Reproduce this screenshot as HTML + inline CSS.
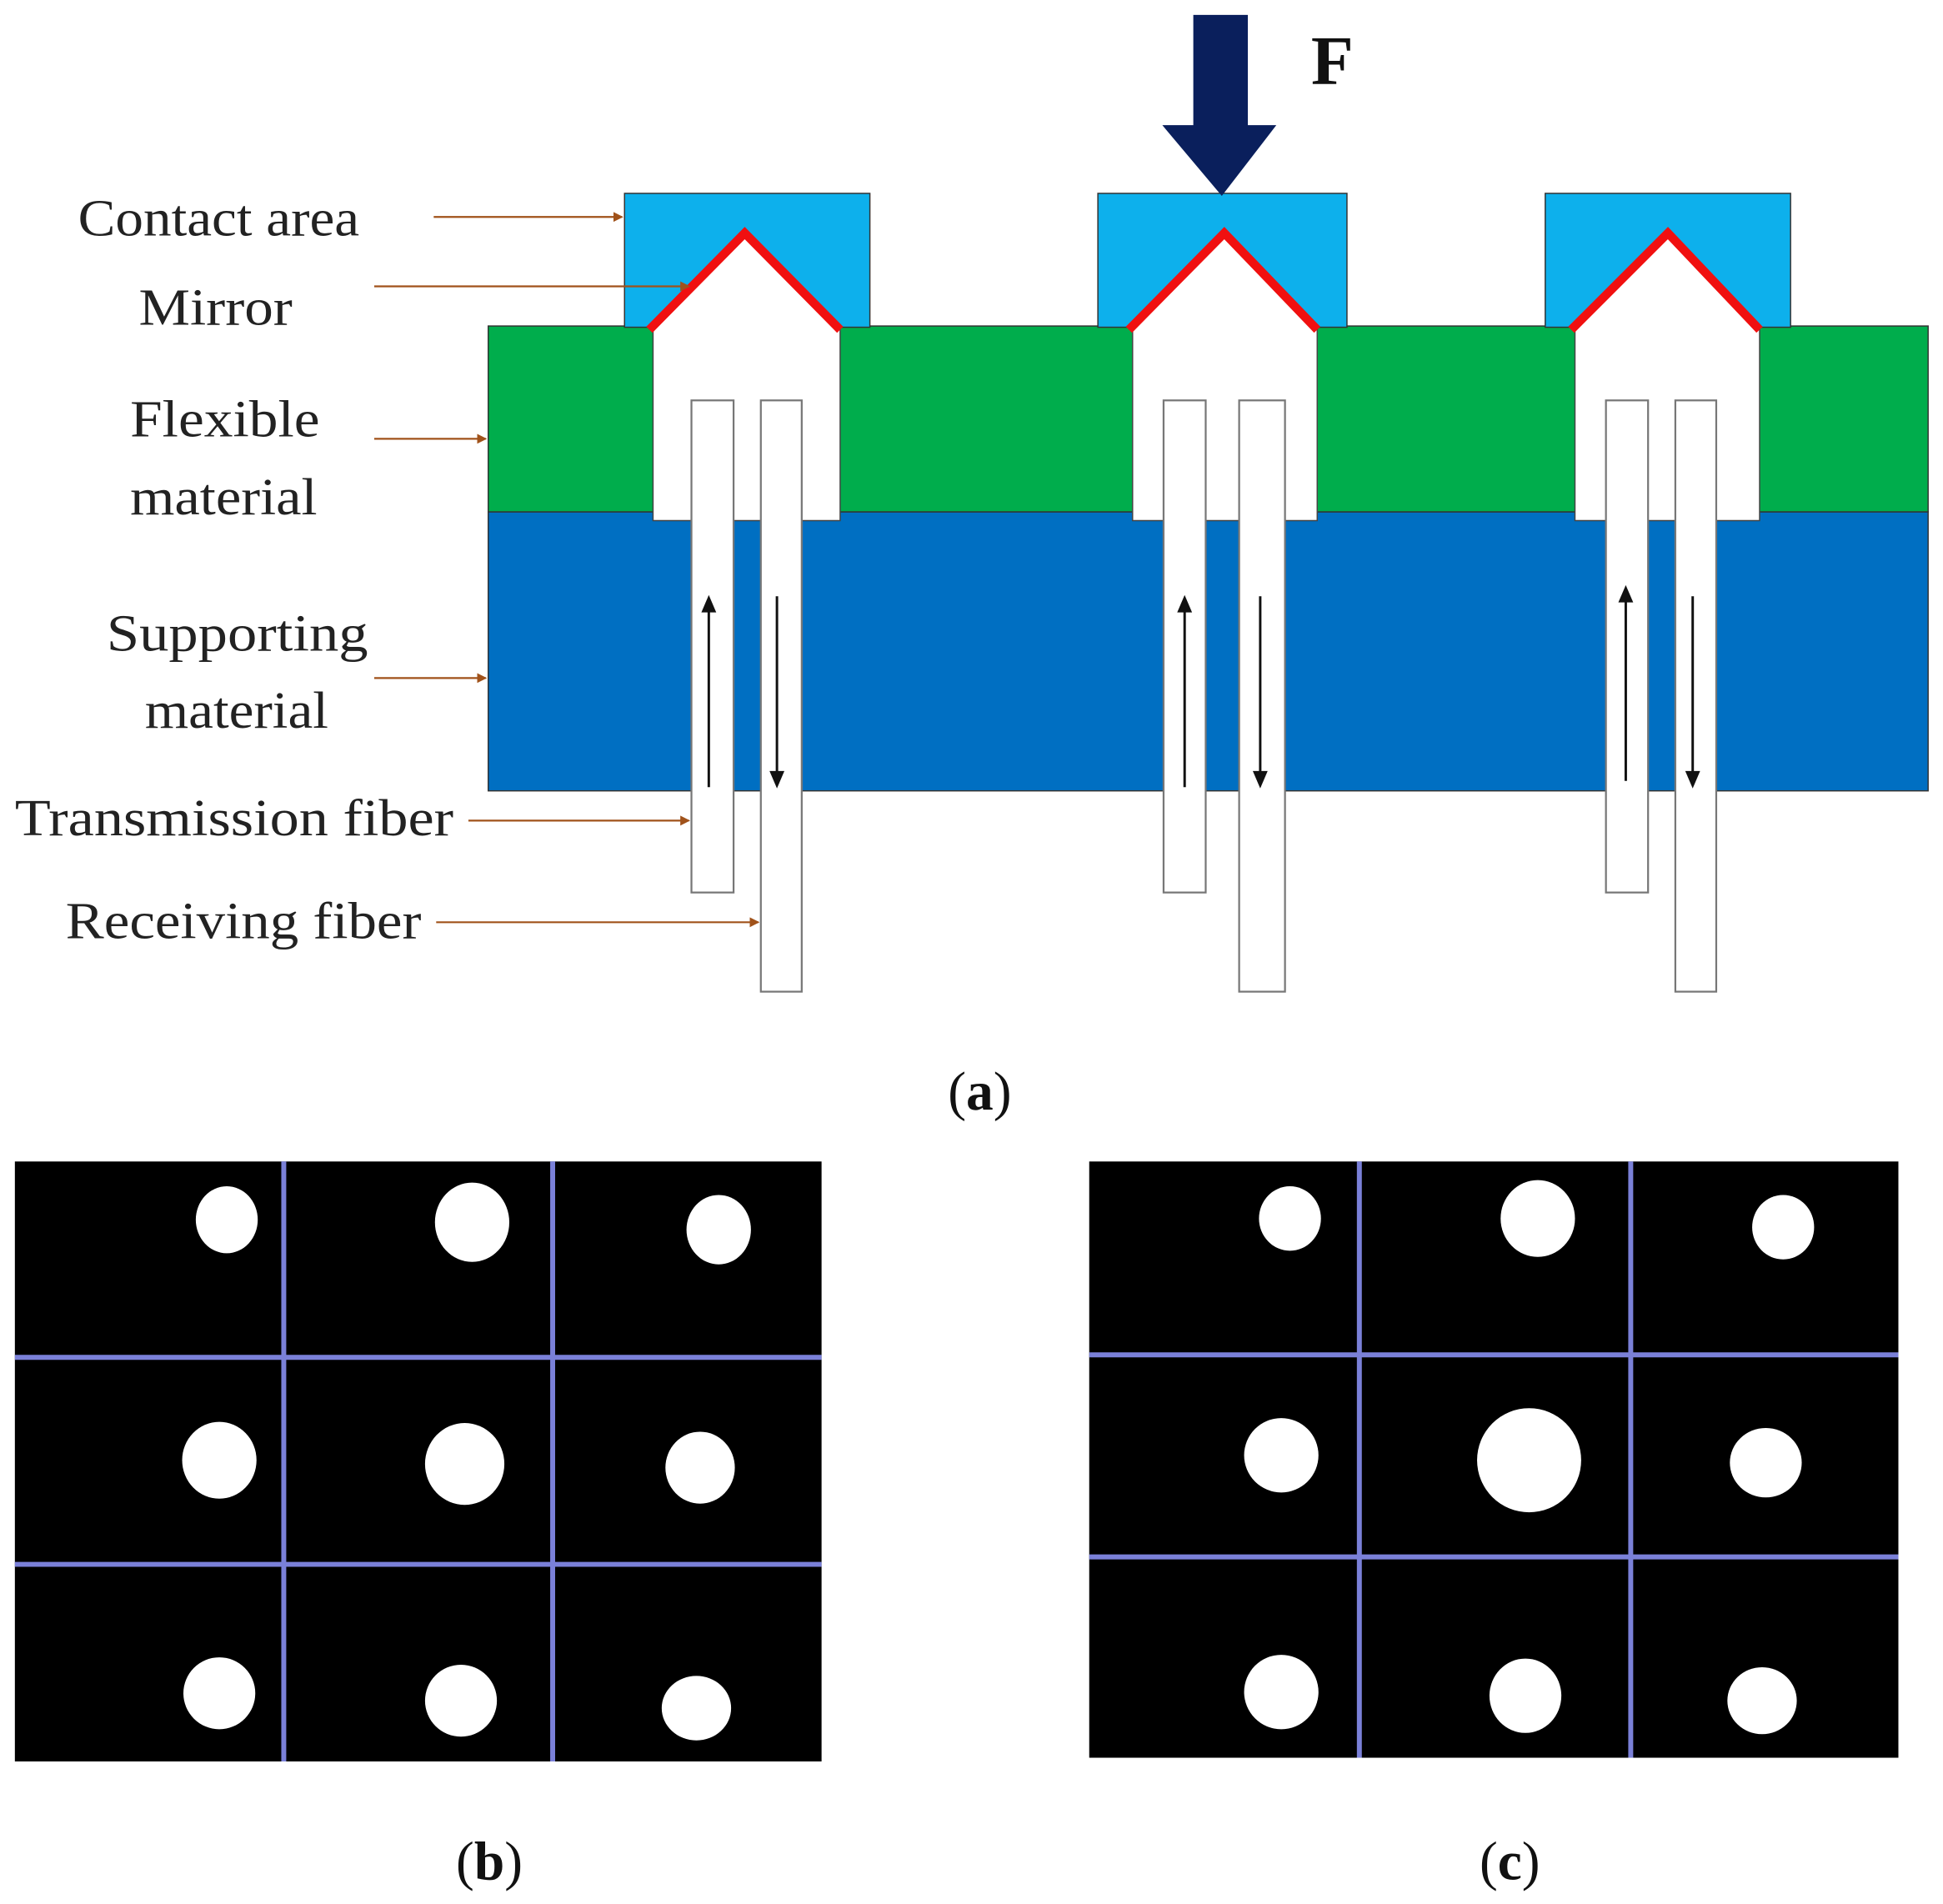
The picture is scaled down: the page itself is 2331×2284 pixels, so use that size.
<!DOCTYPE html>
<html><head><meta charset="utf-8"><style>html,body{margin:0;padding:0;background:#fff}svg{display:block}</style></head>
<body>
<svg width="2331" height="2284" viewBox="0 0 1568 1536" preserveAspectRatio="none" xmlns="http://www.w3.org/2000/svg" font-family="Liberation Serif, serif">
<defs>
<marker id="ob" markerWidth="8" markerHeight="8" refX="7" refY="4" orient="auto" markerUnits="userSpaceOnUse"><path d="M0,0 L8,4 L0,8 z" fill="#a0521a"/></marker>
</defs>
<rect x="394" y="263" width="1162" height="150" fill="#00ad4c" stroke="#333" stroke-width="1"/>
<rect x="394" y="413" width="1162" height="225" fill="#006fc2" stroke="#333" stroke-width="1"/>
<g stroke="#333" stroke-width="1" fill="#0db0ec">
<rect x="504" y="156" width="198" height="108"/>
<rect x="886" y="156" width="201" height="108"/>
<rect x="1247" y="156" width="198" height="108"/>
</g>
<g fill="#fff" stroke="#444" stroke-width="1">
<path d="M527,265 L601,187 L678,265 L678,420 L527,420 Z"/>
<path d="M914,265 L988,187 L1063,265 L1063,420 L914,420 Z"/>
<path d="M1271,265 L1346,187 L1420,265 L1420,420 L1271,420 Z"/>
</g>
<g stroke="#f01010" stroke-width="7" fill="none">
<path d="M524,266 L601,188 L678,266"/>
<path d="M911,266 L988,188 L1063,266"/>
<path d="M1268,266 L1346,188 L1420,266"/>
</g>
<g fill="#fff" stroke="#777" stroke-width="1.5">
<rect x="558" y="323" width="34" height="397"/><rect x="614" y="323" width="33" height="477"/>
<rect x="939" y="323" width="34" height="397"/><rect x="1000" y="323" width="37" height="477"/>
<rect x="1296" y="323" width="34" height="397"/><rect x="1352" y="323" width="33" height="477"/>
</g>
<g stroke="#111" stroke-width="2">
<line x1="572" y1="635" x2="572" y2="490"/>
<line x1="627" y1="481" x2="627" y2="626"/>
<line x1="956" y1="635" x2="956" y2="490"/>
<line x1="1017" y1="481" x2="1017" y2="626"/>
<line x1="1312" y1="630" x2="1312" y2="482"/>
<line x1="1366" y1="481" x2="1366" y2="626"/>
</g>
<g fill="#111">
<path d="M566,494 L572,480 L578,494 Z"/>
<path d="M621,622 L627,636 L633,622 Z"/>
<path d="M950,494 L956,480 L962,494 Z"/>
<path d="M1011,622 L1017,636 L1023,622 Z"/>
<path d="M1306,486 L1312,472 L1318,486 Z"/>
<path d="M1360,622 L1366,636 L1372,622 Z"/>
</g>
<path d="M963,12 L1007,12 L1007,101 L1030,101 L986,158 L938,101 L963,101 Z" fill="#0a1f5c"/>
<text x="1058" y="68" font-size="56" font-weight="bold" fill="#111">F</text>
<g font-size="42" fill="#222" lengthAdjust="spacingAndGlyphs">
<text x="63" y="190" textLength="227" lengthAdjust="spacingAndGlyphs">Contact area</text>
<text x="112" y="262" textLength="124" lengthAdjust="spacingAndGlyphs">Mirror</text>
<text x="105" y="352" textLength="153" lengthAdjust="spacingAndGlyphs">Flexible</text>
<text x="105" y="415" textLength="151" lengthAdjust="spacingAndGlyphs">material</text>
<text x="86" y="525" textLength="211" lengthAdjust="spacingAndGlyphs">Supporting</text>
<text x="117" y="587" textLength="148" lengthAdjust="spacingAndGlyphs">material</text>
<text x="12" y="674" textLength="354" lengthAdjust="spacingAndGlyphs">Transmission fiber</text>
<text x="53" y="757" textLength="287" lengthAdjust="spacingAndGlyphs">Receiving fiber</text>
</g>
<g stroke="#a0521a" stroke-width="1.5" marker-end="url(#ob)">
<line x1="350" y1="175" x2="502" y2="175"/>
<line x1="302" y1="231" x2="556" y2="231"/>
<line x1="302" y1="354" x2="392" y2="354"/>
<line x1="302" y1="547" x2="392" y2="547"/>
<line x1="378" y1="662" x2="556" y2="662"/>
<line x1="352" y1="744" x2="612" y2="744"/>
</g>
<text x="765" y="895" font-size="44" fill="#111">(<tspan font-weight="bold">a</tspan>)</text>
<rect x="12" y="937" width="651" height="484" fill="#000"/>
<g stroke="#7a80d8" stroke-width="4">
<line x1="229" y1="937" x2="229" y2="1421"/><line x1="446" y1="937" x2="446" y2="1421"/>
<line x1="12" y1="1095" x2="663" y2="1095"/><line x1="12" y1="1262" x2="663" y2="1262"/>
</g>
<g fill="#fff">
<ellipse cx="183" cy="984" rx="25" ry="27"/><ellipse cx="381" cy="986" rx="30" ry="32"/><ellipse cx="580" cy="992" rx="26" ry="28"/>
<ellipse cx="177" cy="1178" rx="30" ry="31"/><ellipse cx="375" cy="1181" rx="32" ry="33"/><ellipse cx="565" cy="1184" rx="28" ry="29"/>
<ellipse cx="177" cy="1366" rx="29" ry="29"/><ellipse cx="372" cy="1372" rx="29" ry="29"/><ellipse cx="562" cy="1378" rx="28" ry="26"/>
</g>
<rect x="879" y="937" width="653" height="481" fill="#000"/>
<g stroke="#7a80d8" stroke-width="4">
<line x1="1097" y1="937" x2="1097" y2="1418"/><line x1="1316" y1="937" x2="1316" y2="1418"/>
<line x1="879" y1="1093" x2="1532" y2="1093"/><line x1="879" y1="1256" x2="1532" y2="1256"/>
</g>
<g fill="#fff">
<ellipse cx="1041" cy="983" rx="25" ry="26"/><ellipse cx="1241" cy="983" rx="30" ry="31"/><ellipse cx="1439" cy="990" rx="25" ry="26"/>
<ellipse cx="1034" cy="1174" rx="30" ry="30"/><ellipse cx="1234" cy="1178" rx="42" ry="42"/><ellipse cx="1425" cy="1180" rx="29" ry="28"/>
<ellipse cx="1034" cy="1365" rx="30" ry="30"/><ellipse cx="1231" cy="1368" rx="29" ry="30"/><ellipse cx="1422" cy="1372" rx="28" ry="27"/>
</g>
<text x="368" y="1516" font-size="44" fill="#111">(<tspan font-weight="bold">b</tspan>)</text>
<text x="1194" y="1516" font-size="44" fill="#111">(<tspan font-weight="bold">c</tspan>)</text>
</svg>
</body></html>
